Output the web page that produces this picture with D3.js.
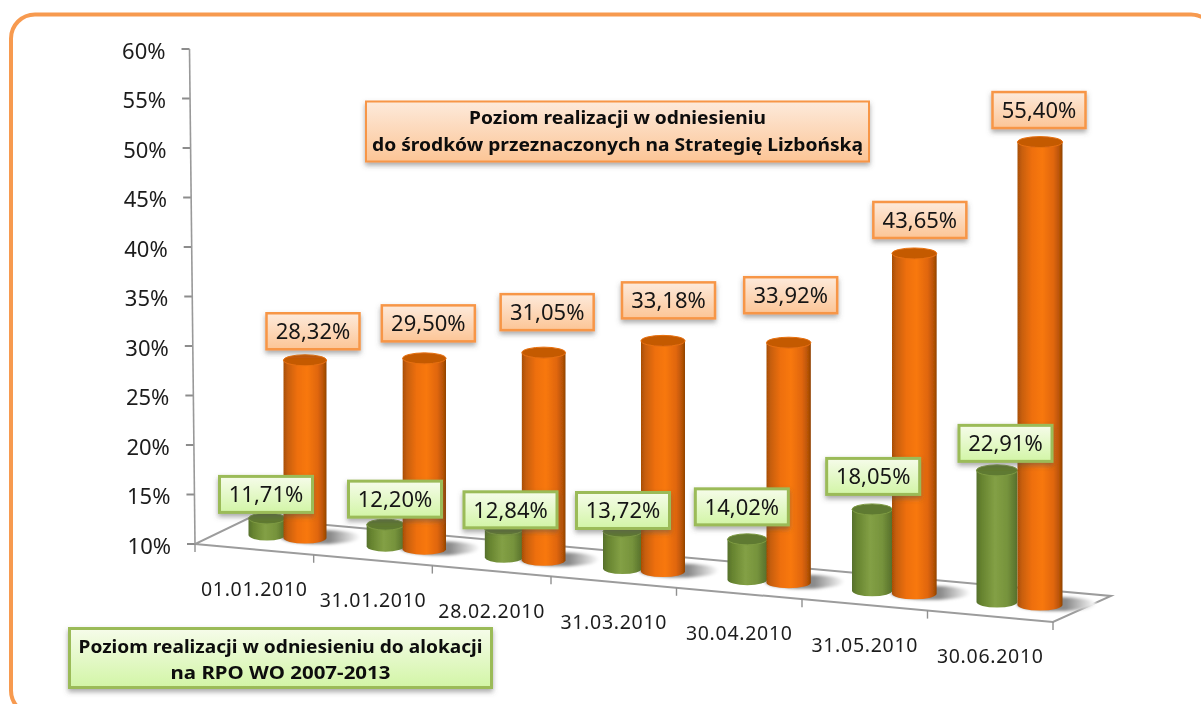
<!DOCTYPE html>
<html><head><meta charset="utf-8">
<style>html,body{margin:0;padding:0;background:#fff;overflow:hidden}svg{display:block}</style>
<script src="https://cdn.jsdelivr.net/npm/d3@7"></script></head>
<body><svg id="c" width="1201" height="704"></svg>
<script>
const categories = ["01.01.2010","31.01.2010","28.02.2010","31.03.2010","30.04.2010","31.05.2010","30.06.2010"];
const lisbonValues = [28.32,29.50,31.05,33.18,33.92,43.65,55.40];
const allocationValues = [11.71,12.20,12.84,13.72,14.02,18.05,22.91];
const yTicks = [10,15,20,25,30,35,40,45,50,55,60];
const lisbonTitle = ["Poziom realizacji w odniesieniu","do środków przeznaczonych na Strategię Lizbońską"];
const allocationTitle = ["Poziom realizacji w odniesieniu do alokacji","na RPO WO 2007-2013"];
// hand placement of the data labels relative to the top of their cylinder
const lisbonLabelNudge = [[8,-29],[4,-35],[3.5,-40.5],[5.5,-40.5],[2,-47.5],[5.5,-33.5],[-1,-32]];
const allocationLabelNudge = [[-1,-24],[9.5,-25.5],[6.5,-19.5],[.5,-21],[-5.5,-32.5],[1,-33],[8.5,-27]];

const FONT = "'Noto Sans','Open Sans',sans-serif";
const svg = d3.select("#c");
const defs = svg.append("defs");
function grad(id, stops, horiz){
  const g = defs.append("linearGradient").attr("id",id).attr("x1",0).attr("y1",0)
    .attr("x2",horiz?1:0).attr("y2",horiz?0:1);
  stops.forEach(([o,c])=>g.append("stop").attr("offset",o).attr("stop-color",c));
}
grad("gOrange",[[0,"#a84e06"],[.1,"#c85f08"],[.32,"#ee6f0a"],[.55,"#f8780e"],[.8,"#e0660a"],[.94,"#b45206"],[1,"#8f4204"]],true);
grad("gGreen",[[0,"#56702c"],[.12,"#66832f"],[.45,"#83a045"],[.75,"#76933c"],[1,"#566f2b"]],true);
grad("boxOrange",[[0,"#fdeadb"],[1,"#fcc596"]]);
grad("boxGreen",[[0,"#f6fcea"],[1,"#d2f5a6"]]);
grad("gShadow",[[0,"#808080"],[.62,"#8a8a8a"],[.82,"#c8c8c8"],[1,"#ffffff"]],true);
const shadow = defs.append("filter").attr("id","sh").attr("x","-10%").attr("y","-20%").attr("width","120%").attr("height","150%");
shadow.append("feDropShadow").attr("dx",0).attr("dy",3).attr("stdDeviation",2.5).attr("flood-color","#555").attr("flood-opacity",.5);
defs.append("filter").attr("id","soft").append("feGaussianBlur").attr("stdDeviation",.55);
defs.append("filter").attr("id","blur2").append("feGaussianBlur").attr("stdDeviation",1.4);

const root = svg.append("g").attr("filter","url(#soft)");

// frame
root.append("rect").attr("x",11).attr("y",14.5).attr("width",1204).attr("height",700).attr("rx",24)
  .attr("fill","#fff").attr("stroke","#f79a50").attr("stroke-width",4);

// scales
const y = d3.scaleLinear().domain([10,60]).range([544,49]);
const axisX = d3.scaleLinear().domain([10,60]).range([195,189.5]);
const idx = d3.range(categories.length);
const frontX = d3.scaleLinear().domain([0,3,7]).range([195,551,1053]);
const frontY = d3.scaleLinear().domain([195,1053]).range([544,622]);
const barX = d3.scaleLinear().domain([0,3,6]).range([305,663,1040]);
const greenOffset = d3.scaleLinear().domain([0,6]).range([38,43]);
const baseOrange = d3.scaleLinear().domain([0,6]).range([538,605]);
const baseGreen = d3.scaleLinear().domain([0,6]).range([535,602]);
const persp = d3.scaleLinear().domain([0,6]).range([.98,1.03]);
const wOrange = d3.scaleLinear().domain([0,6]).range([43,45]);
const wGreen = d3.scaleLinear().domain([0,6]).range([37,41]);
const unit = y(10)-y(11);
const barH = (v,i)=>(v-10)*unit*persp(i);

// floor
const corners = [[195,544],[1053,622],[1111,596],[249,518]];
root.append("path").attr("d",d3.line()(corners)+"Z").attr("fill","#fff").attr("stroke","#9c9c9c").attr("stroke-width",2);

// value axis
const axisG = root.append("g").attr("font-family",FONT);
axisG.call(d3.axisLeft(y).tickValues(yTicks).tickSize(8).tickPadding(16).tickFormat(d=>d+"%"));
axisG.select(".domain").remove();
axisG.selectAll(".tick").attr("transform",d=>`translate(${axisX(d)},${y(d)})`);
axisG.selectAll(".tick line").attr("stroke","#8c8c8c").attr("stroke-width",2);
axisG.selectAll(".tick text").attr("font-size",22).attr("fill","#1c1c1c").attr("dy","0.45em").attr("font-family",FONT);
axisG.append("line").attr("x1",axisX(60)).attr("y1",y(60)).attr("x2",axisX(10)).attr("y2",y(10)).attr("stroke","#999").attr("stroke-width",1.6);

// category ticks + labels
d3.range(categories.length+1).forEach(k=>{
  const x=frontX(k), fy=frontY(x);
  root.append("line").attr("x1",x).attr("x2",x).attr("y1",fy).attr("y2",fy+8).attr("stroke","#909090").attr("stroke-width",1.4);
});
root.append("g").selectAll("text").data(categories).join("text")
  .attr("x",(d,i)=>(frontX(i)+frontX(i+1))/2)
  .attr("y",(d,i)=>frontY((frontX(i)+frontX(i+1))/2)+47)
  .attr("text-anchor","middle").attr("font-family",FONT).attr("font-size",19.5).attr("letter-spacing",.7)
  .attr("fill","#1c1c1c").text(d=>d);

// floor shadows
const shadows = root.append("g").attr("filter","url(#blur2)");
shadows.selectAll("ellipse").data(idx).join("ellipse")
  .attr("cx",i=>barX(i)+wOrange(i)/2-6).attr("cy",i=>baseOrange(i)-1)
  .attr("rx",40).attr("ry",7).attr("fill","url(#gShadow)");

function cylinder(g,cx,base,h,w,fill,top,rim){
  const rx=w/2, ry=5.5, t=base-h;
  g.append("path")
    .attr("d",`M${cx-rx},${t}L${cx-rx},${base}A${rx},${ry} 0 0 0 ${cx+rx},${base}L${cx+rx},${t}Z`)
    .attr("fill",fill);
  g.append("ellipse").attr("cx",cx).attr("cy",t).attr("rx",rx).attr("ry",ry).attr("fill",top).attr("stroke",rim).attr("stroke-width",1);
}
const bars = root.append("g");
idx.forEach(i=>{
  const ox=barX(i), gx=ox-greenOffset(i);
  cylinder(bars,gx,baseGreen(i),barH(allocationValues[i],i),wGreen(i),"url(#gGreen)","#5f7a30","#7d9a42");
  cylinder(bars,ox,baseOrange(i),barH(lisbonValues[i],i),wOrange(i),"url(#gOrange)","#c45a06","#e8700c");
});

function box(x,y0,w,h,fill,stroke,sw){
  root.append("rect").attr("x",x).attr("y",y0).attr("width",w).attr("height",h)
    .attr("fill",fill).attr("stroke",stroke).attr("stroke-width",sw).attr("filter","url(#sh)");
}
const fmt = v=>v.toFixed(2).replace(".",",")+"%";
function labels(vals,base,off,nudge,fill,stroke,sw){
  vals.forEach((v,i)=>{
    const cx=barX(i)-off(i)+nudge[i][0], cy=base(i)-barH(v,i)+nudge[i][1];
    box(cx-46.5,cy-18,93,36,fill,stroke,sw);
    root.append("text").attr("x",cx).attr("y",cy).attr("dy","0.36em").attr("text-anchor","middle")
      .attr("font-family",FONT).attr("font-size",22).attr("fill","#141414").text(fmt(v));
  });
}
labels(lisbonValues,baseOrange,()=>0,lisbonLabelNudge,"url(#boxOrange)","#f79646",2.5);
labels(allocationValues,baseGreen,greenOffset,allocationLabelNudge,"url(#boxGreen)","#9bbb59",3);

// annotation boxes
function note(x,y0,w,h,lines,ly,lens,fill,stroke,sw){
  box(x,y0,w,h,fill,stroke,sw);
  lines.forEach((t,k)=>root.append("text").attr("x",x+w/2).attr("y",ly[k]).attr("text-anchor","middle")
    .attr("font-family",FONT).attr("font-weight",700).attr("font-size",17.5).attr("fill","#0c0c0c")
    .attr("textLength",lens[k]).attr("lengthAdjust","spacingAndGlyphs").text(t));
}
note(366,101.5,503,60,lisbonTitle,[124,151],[297,491],"url(#boxOrange)","#f79646",2);
note(69.5,628.5,422,59,allocationTitle,[653,679],[404,220],"url(#boxGreen)","#9bbb59",3);
</script></body></html>
